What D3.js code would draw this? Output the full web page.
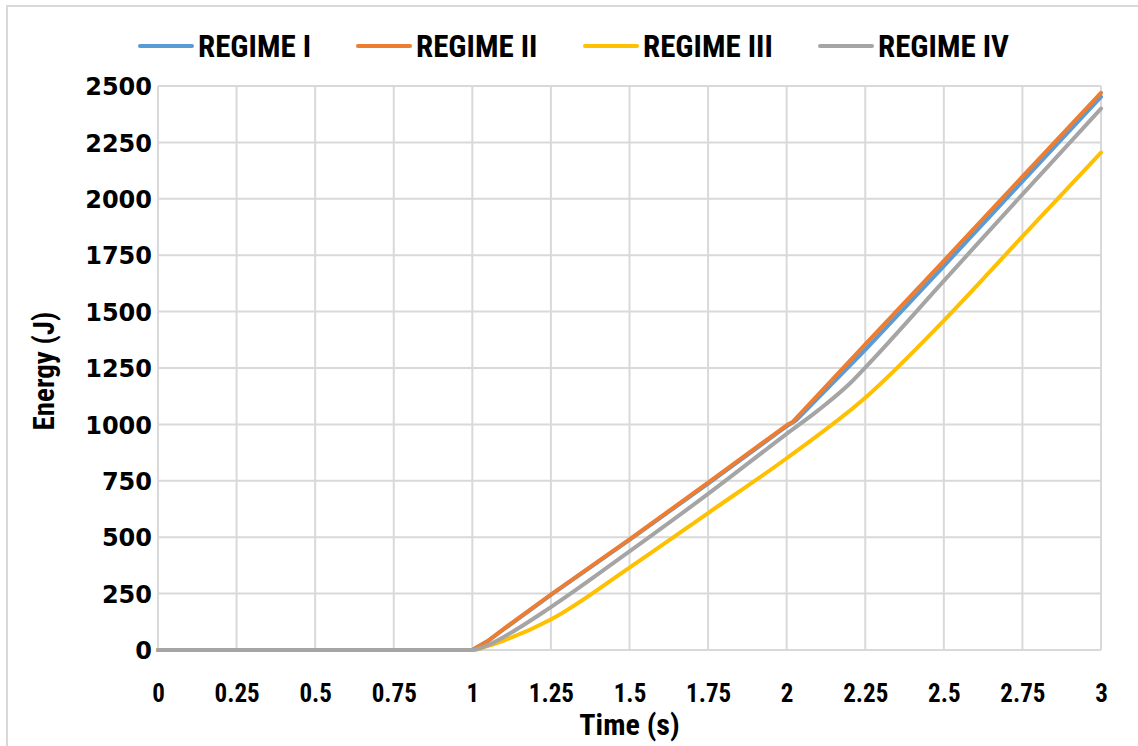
<!DOCTYPE html>
<html>
<head>
<meta charset="utf-8">
<script src="https://cdn.jsdelivr.net/npm/d3@7"></script>
<style>
  html, body { margin: 0; padding: 0; background: #fff; }
  svg { display: block; }
  .xt, .leg, .ttl { font-family: "Liberation Sans Narrow", "Arial Narrow", "Roboto Condensed", sans-serif; font-weight: bold; fill: #000; }
  .yt { font-family: "DejaVu Sans", Verdana, sans-serif; font-weight: bold; fill: #000; }
</style>
</head>
<body>
<svg id="chart" width="1138" height="746"></svg>
<script>
// Time samples (s) and cumulative energy (J) for each operating regime
const timeI   = [0, 0.5, 1, 1.05, 1.1, 1.25, 1.5, 1.75, 2, 2.03, 2.25, 2.5, 2.75, 3];
const regimeI = [0, 0, 0, 40, 92, 244, 488, 738, 992, 1018, 1330, 1702, 2077, 2452];

const timeII   = [0, 0.5, 1, 1.05, 1.1, 1.25, 1.5, 1.75, 2, 2.02, 2.25, 2.5, 2.75, 3];
const regimeII = [0, 0, 0, 41, 94, 246, 490, 742, 996, 1012, 1355, 1725, 2098, 2470];

const timeIII   = [0, 0.5, 1, 1.05, 1.1, 1.25, 1.5, 1.75, 2, 2.25, 2.5, 2.75, 3];
const regimeIII = [0, 0, 0, 18, 42, 135, 365, 607, 850, 1118, 1460, 1833, 2205];

const timeIV   = [0, 0.5, 1, 1.05, 1.1, 1.25, 1.5, 1.75, 2, 2.1, 2.2, 2.25, 2.5, 2.75, 3];
const regimeIV = [0, 0, 0, 22, 58, 190, 437, 692, 958, 1062, 1180, 1252, 1636, 2020, 2400];

const seriesNames  = ["REGIME I", "REGIME II", "REGIME III", "REGIME IV"];
const seriesColors = ["#5b9bd5", "#ed7d31", "#ffc000", "#a5a5a5"];

const xTicks = [0, 0.25, 0.5, 0.75, 1, 1.25, 1.5, 1.75, 2, 2.25, 2.5, 2.75, 3];
const yTicks = [0, 250, 500, 750, 1000, 1250, 1500, 1750, 2000, 2250, 2500];

// regimes I and II switch slope abruptly just after t = 2 s; III and IV bend gradually
const series = [
  { name: seriesNames[0], color: seriesColors[0], t: timeI,   e: regimeI,   curve: d3.curveLinear },
  { name: seriesNames[1], color: seriesColors[1], t: timeII,  e: regimeII,  curve: d3.curveLinear },
  { name: seriesNames[2], color: seriesColors[2], t: timeIII, e: regimeIII, curve: d3.curveMonotoneX },
  { name: seriesNames[3], color: seriesColors[3], t: timeIV,  e: regimeIV,  curve: d3.curveMonotoneX }
];

const svg = d3.select("#chart");

// outer chart frame
svg.append("rect")
  .attr("x", 7).attr("y", 6).attr("width", 1140).attr("height", 750)
  .attr("fill", "none").attr("stroke", "#d9d9d9").attr("stroke-width", 2);

const x = d3.scaleLinear().domain([0, 3]).range([158, 1101]);
const y = d3.scaleLinear().domain([0, 2500]).range([650, 86]);

// gridlines
const grid = svg.append("g");
grid.selectAll("line.v").data(xTicks).join("line")
  .attr("x1", d => x(d)).attr("x2", d => x(d))
  .attr("y1", y(0)).attr("y2", y(2500))
  .attr("stroke", "#d9d9d9").attr("stroke-width", 2);
grid.selectAll("line.h").data(yTicks).join("line")
  .attr("x1", x(0)).attr("x2", x(3))
  .attr("y1", d => y(d)).attr("y2", d => y(d))
  .attr("stroke", "#d9d9d9").attr("stroke-width", 2);

// axes (labels only, no domain lines)
const xAxis = svg.append("g").attr("transform", `translate(0,${y(0)})`)
  .call(d3.axisBottom(x).tickValues(xTicks).tickSize(0).tickPadding(0).tickFormat(d3.format("")));
xAxis.select(".domain").remove();
xAxis.selectAll("text").attr("class", "xt").attr("dy", null).attr("y", 52)
  .style("font-size", "25px");

const yAxis = svg.append("g").attr("transform", `translate(${x(0)},0)`)
  .call(d3.axisLeft(y).tickValues(yTicks).tickSize(0).tickPadding(6).tickFormat(d3.format("")));
yAxis.select(".domain").remove();
yAxis.selectAll("text").attr("class", "yt").attr("dy", "0.36em")
  .style("font-size", "24px");

// axis titles
svg.append("text").attr("class", "ttl")
  .attr("x", x(1.5)).attr("y", 735).attr("text-anchor", "middle")
  .style("font-size", "30px").text("Time (s)");
svg.append("text").attr("class", "ttl")
  .attr("transform", `translate(54,371) rotate(-90)`).attr("text-anchor", "middle")
  .style("font-size", "29px").text("Energy (J)");

// series lines
svg.append("g").selectAll("path").data(series).join("path")
  .attr("d", s => d3.line().x(d => x(d[0])).y(d => y(d[1])).curve(s.curve)(s.t.map((t, i) => [t, s.e[i]])))
  .attr("fill", "none")
  .attr("stroke", s => s.color)
  .attr("stroke-width", 4)
  .attr("stroke-linejoin", "round")
  .attr("stroke-linecap", "round");

// legend
const legendX = [140, 358, 585, 820];
const leg = svg.append("g");
series.forEach((s, i) => {
  const g = leg.append("g").attr("transform", `translate(${legendX[i]},46)`);
  g.append("line").attr("x1", 0).attr("x2", 52).attr("y1", 0).attr("y2", 0)
    .attr("stroke", s.color).attr("stroke-width", 4).attr("stroke-linecap", "round");
  g.append("text").attr("class", "leg").attr("x", 58).attr("dy", "0.35em")
    .style("font-size", "31px").text(s.name);
});
</script>
</body>
</html>
